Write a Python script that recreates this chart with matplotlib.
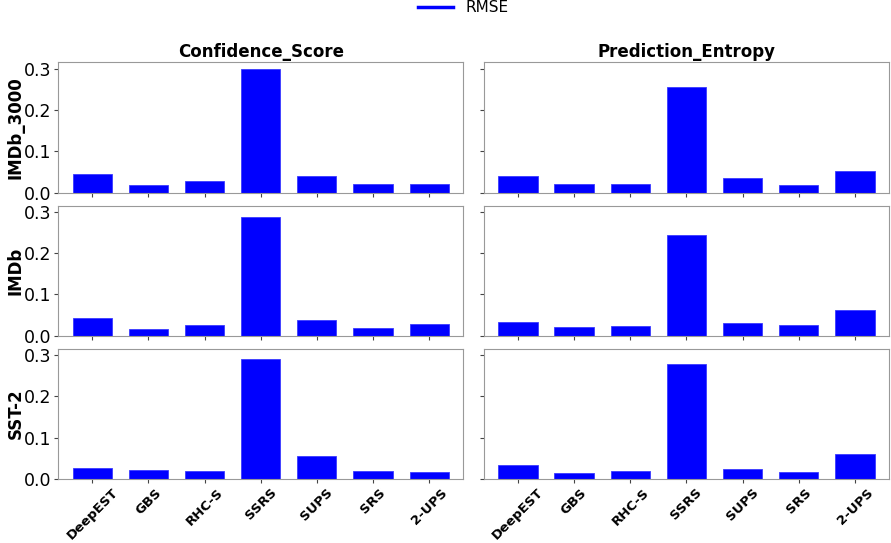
import matplotlib
matplotlib.use("Agg")
import matplotlib.pyplot as plt
from matplotlib.lines import Line2D
import numpy as np

methods = ["DeepEST", "GBS", "RHC-S", "SSRS", "SUPS", "SRS", "2-UPS"]
datasets = ["IMDb_3000", "IMDb", "SST-2"]
metrics = ["Confidence_Score", "Prediction_Entropy"]

imdb3000_conf = [0.046, 0.019, 0.028, 0.300, 0.040, 0.020, 0.020]
imdb3000_ent = [0.041, 0.022, 0.022, 0.255, 0.035, 0.019, 0.052]
imdb_conf = [0.042, 0.017, 0.026, 0.287, 0.037, 0.018, 0.029]
imdb_ent = [0.034, 0.020, 0.023, 0.243, 0.032, 0.026, 0.063]
sst2_conf = [0.027, 0.022, 0.018, 0.291, 0.055, 0.020, 0.017]
sst2_ent = [0.033, 0.015, 0.018, 0.277, 0.023, 0.017, 0.060]

values = [[imdb3000_conf, imdb3000_ent],
          [imdb_conf, imdb_ent],
          [sst2_conf, sst2_ent]]

fig, axes = plt.subplots(3, 2, figsize=(8.91, 5.43), dpi=100, sharey=True, sharex=True)
fig.subplots_adjust(left=0.065, right=0.998, top=0.885, bottom=0.118, wspace=0.05, hspace=0.1)

x = np.arange(len(methods))
for r in range(3):
    for c in range(2):
        ax = axes[r, c]
        ax.bar(x, values[r][c], width=0.7, color="#0000ff", edgecolor="#3a3aff", linewidth=0.6)
        for s in ax.spines.values():
            s.set_color("#999999")
        ax.tick_params(axis="both", colors="#444444", labelcolor="black", labelsize=12.5, length=3, pad=2)
        ax.set_yticks([0.0, 0.1, 0.2, 0.3])
        ax.set_xticks(x)
        if r == 0:
            ax.set_title(metrics[c], fontsize=12, fontweight="bold", pad=4)
        if c == 0:
            ax.set_ylabel(datasets[r], fontsize=12, fontweight="bold")
            ax.yaxis.set_label_coords(-0.083, 0.5)
        if r == 2:
            ax.set_xticklabels(methods, rotation=45, ha="center",
                               fontsize=9.5, fontweight="bold")

axes[0, 0].set_ylim(0, 0.315)
axes[0, 0].set_xlim(-0.61, 6.61)

handles = [Line2D([0], [0], color="#0000ff", lw=2.5)]
fig.legend(handles, ["RMSE"], loc="upper center", bbox_to_anchor=(0.52, 1.025),
           frameon=False, fontsize=11, handlelength=2.3)

fig.savefig("out.png", dpi=100)
